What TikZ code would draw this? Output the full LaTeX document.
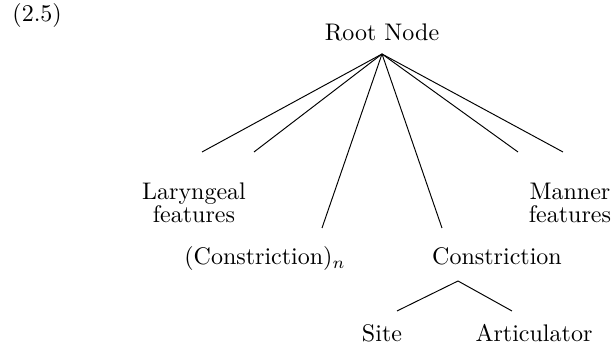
\documentclass[tikz,border=0pt]{standalone}
\begin{document}
\begin{tikzpicture}[x=0.41667pt,y=-0.41667pt,
  lbl/.style={inner sep=0pt,anchor=base,font=\fontsize{10}{9.6}\selectfont},
  branch/.style={line width=0.4pt}]
\useasboundingbox (0,0) rectangle (615,347);
\node[lbl,anchor=base west] (num) at (12,22) {(2.5)};
\node[lbl] (root) at (382,41) {Root Node};
\coordinate (rootapex) at (382,54);
\coordinate (laryA) at (202,152);
\coordinate (laryB) at (254,152);
\coordinate (consnEnd) at (322,228);
\coordinate (consEnd) at (442,228);
\coordinate (mannA) at (518,152);
\coordinate (mannB) at (563,152);
\node[lbl,align=center] (lary) at (194,223) {Laryngeal\\features};
\node[lbl,align=center] (mann) at (570,223) {Manner\\features};
\node[lbl] (consn) at (265,265) {(Constriction)$_n$};
\node[lbl] (cons) at (497,265) {Constriction};
\coordinate (consapex) at (458,281);
\coordinate (siteEnd) at (397,311);
\coordinate (artEnd) at (512,311);
\node[lbl] (site) at (382,342) {Site};
\node[lbl] (artic) at (534,342) {Articulator};
\draw[branch] (rootapex) -- (laryA);
\draw[branch] (rootapex) -- (laryB);
\draw[branch] (rootapex) -- (consnEnd);
\draw[branch] (rootapex) -- (consEnd);
\draw[branch] (rootapex) -- (mannA);
\draw[branch] (rootapex) -- (mannB);
\draw[branch] (consapex) -- (siteEnd);
\draw[branch] (consapex) -- (artEnd);
\end{tikzpicture}
\end{document}
